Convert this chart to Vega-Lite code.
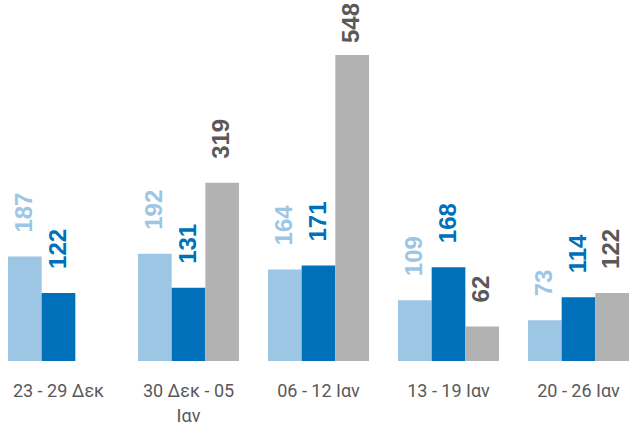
{
  "$schema": "https://vega.github.io/schema/vega-lite/v6.json",
  "width": 629,
  "height": 361,
  "autosize": "none",
  "padding": {"left": 0, "top": 0, "right": 0, "bottom": 66},
  "background": "white",
  "config": {"view": {"stroke": null}},
  "data": {
    "values": [
      {"week": "23 - 29 Δεκ", "series": "Σειρά 1", "value": 187},
      {"week": "23 - 29 Δεκ", "series": "Σειρά 2", "value": 122},
      {"week": "30 Δεκ - 05 Ιαν", "series": "Σειρά 1", "value": 192},
      {"week": "30 Δεκ - 05 Ιαν", "series": "Σειρά 2", "value": 131},
      {"week": "30 Δεκ - 05 Ιαν", "series": "Σειρά 3", "value": 319},
      {"week": "06 - 12 Ιαν", "series": "Σειρά 1", "value": 164},
      {"week": "06 - 12 Ιαν", "series": "Σειρά 2", "value": 171},
      {"week": "06 - 12 Ιαν", "series": "Σειρά 3", "value": 548},
      {"week": "13 - 19 Ιαν", "series": "Σειρά 1", "value": 109},
      {"week": "13 - 19 Ιαν", "series": "Σειρά 2", "value": 168},
      {"week": "13 - 19 Ιαν", "series": "Σειρά 3", "value": 62},
      {"week": "20 - 26 Ιαν", "series": "Σειρά 1", "value": 73},
      {"week": "20 - 26 Ιαν", "series": "Σειρά 2", "value": 114},
      {"week": "20 - 26 Ιαν", "series": "Σειρά 3", "value": 122}
    ]
  },
  "encoding": {
    "x": {
      "field": "week",
      "type": "nominal",
      "sort": ["23 - 29 Δεκ", "30 Δεκ - 05 Ιαν", "06 - 12 Ιαν", "13 - 19 Ιαν", "20 - 26 Ιαν"],
      "scale": {"range": [-6.5, 643.5], "paddingInner": 0, "paddingOuter": 0},
      "axis": {
        "title": null,
        "domain": false,
        "ticks": false,
        "labelAngle": 0,
        "labelFont": "Roboto",
        "labelFontSize": 18,
        "labelColor": "#595959",
        "labelPadding": 21,
        "labelLineHeight": 25,
        "labelBaseline": "top",
        "labelExpr": "datum.label == '30 Δεκ - 05 Ιαν' ? ['30 Δεκ - 05', 'Ιαν'] : datum.label"
      }
    },
    "xOffset": {"field": "series", "type": "nominal", "scale": {"paddingOuter": 0.43, "paddingInner": 0}},
    "y": {"field": "value", "type": "quantitative", "scale": {"domain": [0, 646.5], "nice": false}, "axis": null}
  },
  "layer": [
    {
      "mark": {"type": "bar"},
      "encoding": {
        "color": {
          "field": "series",
          "type": "nominal",
          "scale": {"domain": ["Σειρά 1", "Σειρά 2", "Σειρά 3"], "range": ["#9DC6E4", "#0070BA", "#B2B2B2"]},
          "legend": null
        }
      }
    },
    {
      "transform": [{"filter": "datum.value < 500"}],
      "mark": {"type": "text", "angle": 270, "align": "left", "baseline": "middle", "dx": 24, "font": "Liberation Sans", "fontWeight": "bold", "fontSize": 24},
      "encoding": {
        "text": {"field": "value", "type": "quantitative"},
        "color": {
          "field": "series",
          "type": "nominal",
          "scale": {"domain": ["Σειρά 1", "Σειρά 2", "Σειρά 3"], "range": ["#9DC6E4", "#0070BA", "#595959"]},
          "legend": null
        }
      }
    },
    {
      "transform": [{"filter": "datum.value >= 500"}],
      "mark": {"type": "text", "angle": 270, "align": "left", "baseline": "middle", "dx": 12, "font": "Liberation Sans", "fontWeight": "bold", "fontSize": 24},
      "encoding": {
        "text": {"field": "value", "type": "quantitative"},
        "color": {
          "field": "series",
          "type": "nominal",
          "scale": {"domain": ["Σειρά 1", "Σειρά 2", "Σειρά 3"], "range": ["#9DC6E4", "#0070BA", "#595959"]},
          "legend": null
        }
      }
    }
  ],
  "resolve": {"scale": {"color": "independent"}}
}
